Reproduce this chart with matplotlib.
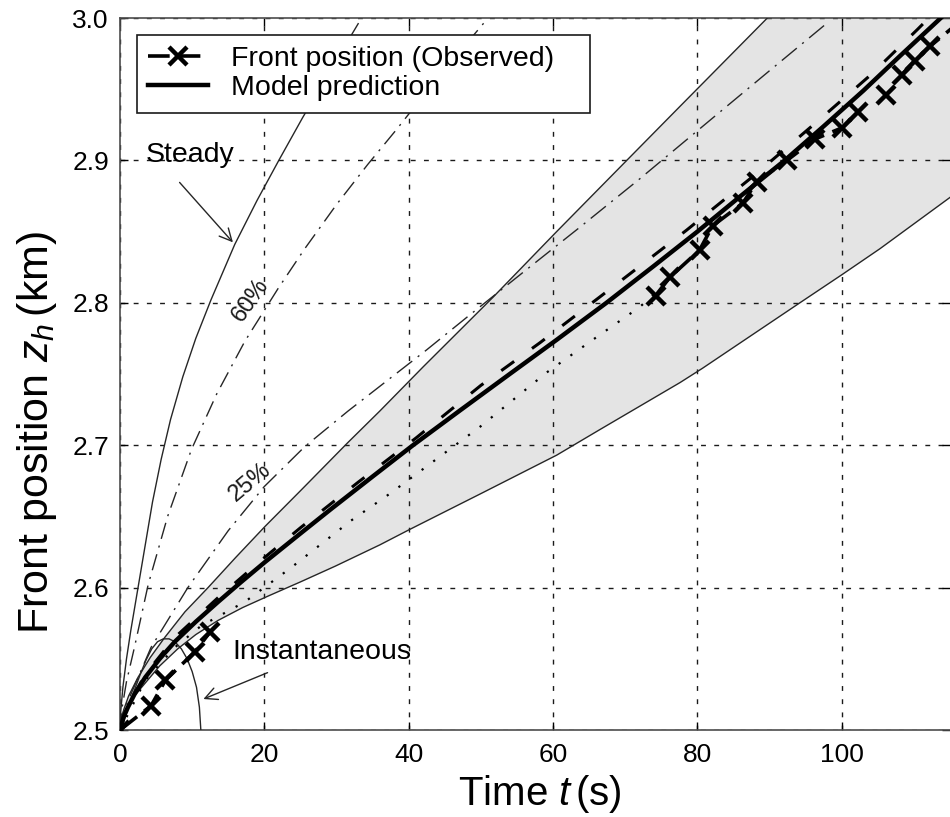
import numpy as np
import matplotlib
matplotlib.use("Agg")
import matplotlib.pyplot as plt

plt.rcParams["font.family"] = ["Liberation Sans", "DejaVu Sans"]
plt.rcParams["mathtext.fontset"] = "custom"
plt.rcParams["mathtext.rm"] = "Liberation Sans"
plt.rcParams["mathtext.it"] = "Liberation Sans:italic"

# curves (time in s, front position in km)
steady_t = [0, 0.1, 0.4, 0.9, 1.5, 2.2, 3.4, 4.5, 5.7, 7.0, 8.7, 10.5, 12.6, 15.9, 19.0, 22.0, 25.3, 29.0, 33.0]
steady_z = [2.5, 2.513, 2.530, 2.550, 2.570, 2.591, 2.627, 2.660, 2.690, 2.718, 2.748, 2.775, 2.802,
            2.841, 2.872, 2.900, 2.930, 2.962, 2.996]

p60_t = [0, 0.3, 0.9, 2.0, 3.9, 6.6, 9.9, 13.4, 17.3, 21.9, 25.6, 30.0, 34.3, 38.2, 44.0, 50.5]
p60_z = [2.5, 2.516, 2.534, 2.558, 2.602, 2.650, 2.697, 2.736, 2.773, 2.810, 2.838, 2.869, 2.897,
         2.921, 2.958, 2.997]

p25_t = [0, 0.4, 1.5, 4.3, 9.4, 15.0, 20.0, 25.6, 31.6, 42.5, 48.1, 56.0, 63.7, 72.0, 81.7, 90.0, 98.1]
p25_z = [2.5, 2.512, 2.525, 2.558, 2.600, 2.640, 2.671, 2.699, 2.724, 2.767, 2.790, 2.822, 2.853,
         2.887, 2.928, 2.963, 2.997]

band_up_t = [0, 0.5, 1.2, 2.5, 4.2, 6.2, 9.0, 12.2, 16.0, 20.1, 25.0, 31.6, 36.0, 42.0, 51.7, 60.5,
             70.6, 77.6, 89.3, 120]
band_up_z = [2.5, 2.514, 2.524, 2.537, 2.551, 2.565, 2.583, 2.600, 2.621, 2.643, 2.668, 2.702, 2.724,
             2.755, 2.804, 2.850, 2.902, 2.938, 2.998, 3.158]

band_lo_t = [0, 0.5, 1.5, 3.5, 5.5, 8.0, 10.5, 13.6, 17.0, 20.5, 25.0, 29.8, 36.0, 40.2, 50.0, 60.5,
             66.5, 77.6, 80.7, 94.2, 100.1, 105.3, 115, 120]
band_lo_z = [2.5, 2.512, 2.521, 2.533, 2.545, 2.557, 2.567, 2.577, 2.586, 2.594, 2.604, 2.615, 2.630,
             2.641, 2.666, 2.693, 2.711, 2.744, 2.754, 2.800, 2.820, 2.838, 2.874, 2.892]

model_t = [0, 0.5, 1.1, 2.0, 3.5, 5.5, 7.6, 10.5, 13.6, 16.8, 20.1, 25.0, 29.2, 35.0, 40.6, 47.0,
           54.0, 60.5, 67.4, 74.0, 80.0, 86.0, 92.1, 97.5, 103.0, 108.0, 113.3, 120]
model_z = [2.5, 2.509, 2.516, 2.525, 2.537, 2.550, 2.562, 2.576, 2.590, 2.604, 2.618, 2.638, 2.655,
           2.678, 2.700, 2.724, 2.750, 2.774, 2.800, 2.826, 2.850, 2.875, 2.900, 2.924, 2.949, 2.973,
           2.998, 3.03]

dash_t = [0, 1.1, 3.5, 7.6, 13.6, 20.0, 25.0, 33.0, 41.0, 50.0, 58.2, 68.0, 78.5, 88.0, 97.0, 104.0,
          110.5, 116]
dash_z = [2.5, 2.517, 2.539, 2.565, 2.593, 2.621, 2.642, 2.674, 2.705, 2.742, 2.772, 2.810, 2.851,
          2.890, 2.929, 2.960, 2.992, 3.02]

dot_t = [0, 3.5, 7.6, 11.2, 17.3, 23.7, 32.0, 37.4, 49.9, 59.1, 65.5, 72.0, 74.0]
dot_z = [2.5, 2.535, 2.558, 2.573, 2.590, 2.614, 2.647, 2.666, 2.713, 2.751, 2.774, 2.797, 2.806]

inst_t = [0, 0.4, 0.8, 1.4, 2.0, 2.8, 3.6, 4.4, 5.2, 6.0, 6.8, 7.6, 8.5, 9.3, 10.0, 10.6, 11.0, 11.2]
inst_z = [2.5, 2.506, 2.512, 2.520, 2.528, 2.539, 2.549, 2.557, 2.562, 2.564, 2.564, 2.562, 2.557,
          2.550, 2.541, 2.530, 2.516, 2.5]

obs_t = [0, 4.3, 6.3, 10.4, 12.5, np.nan, 74.2, 76.2, 80.3, 82.1, 86.3, 88.2, 92.4, 96.3,
         100.1, 102.2, np.nan, 106.2, np.nan, 108.3, 110.1, 112.2, 116.5]
obs_z = [2.5, 2.517, 2.535, 2.555, 2.569, np.nan, 2.805, 2.818, 2.837, 2.854, 2.870, 2.885, 2.900, 2.915,
         2.923, 2.934, np.nan, 2.946, np.nan, 2.960, 2.970, 2.980, 2.998]

xticks = [0, 20, 40, 60, 80, 100]
yticks = [2.5, 2.6, 2.7, 2.8, 2.9, 3.0]

fig = plt.figure(figsize=(9.5, 8.17), dpi=100)
ax = fig.add_axes([120 / 950, 87 / 817, 830 / 950, 712 / 817])

thin = "0.15"
ax.fill(band_up_t + band_lo_t[::-1], band_up_z + band_lo_z[::-1], color="#e4e4e4", lw=0, zorder=1)
ax.plot(band_up_t, band_up_z, color=thin, lw=1.0, zorder=3)
ax.plot(band_lo_t, band_lo_z, color=thin, lw=1.0, zorder=3)
ax.plot(steady_t, steady_z, color=thin, lw=1.0, zorder=3)
ax.plot(p60_t, p60_z, color=thin, lw=1.0, dashes=(12, 5, 1.5, 5), zorder=3)
ax.plot(p25_t, p25_z, color=thin, lw=1.0, dashes=(14, 5, 1.5, 5), zorder=3)
ax.plot(inst_t, inst_z, color=thin, lw=1.0, zorder=3)
ax.plot(dot_t, dot_z, color="k", lw=1.6, dashes=(1, 5.5), zorder=4)
ax.plot(dash_t, dash_z, color="k", lw=2.2, dashes=(5.2, 7.2), zorder=4)
ax.plot(model_t, model_z, color="k", lw=3.2, zorder=5, label="Model prediction")
ax.plot(obs_t, obs_z, color="k", lw=2.6, dashes=(6, 2.5), marker="x", ms=13, mew=3.2,
        zorder=6, label="Front position (Observed)")

ax.set_xlim(0, 115)
ax.set_ylim(2.5, 3.0)
ax.set_xticks(xticks)
ax.set_yticks(yticks)
ax.set_yticklabels([f"{v:.1f}" for v in yticks])
ax.tick_params(direction="in", length=6, width=1, top=True, right=True, labelsize=19)
ax.tick_params(axis="y", pad=8)
ax.tick_params(axis="x", pad=9)
ax.grid(True, color="0.1", lw=1.0, linestyle=(0, (3.5, 6)))
ax.spines["right"].set_visible(False)
for s in ["left", "top", "bottom"]:
    ax.spines[s].set_color("0.3")
    ax.spines[s].set_linewidth(1.2)

ax.set_xlabel(r"Time $t\,$(s)", fontsize=29)
ax.set_ylabel(r"Front position $z_h\,$(km)", fontsize=31)
ax.xaxis.set_label_coords(0.506, -0.060)
ax.yaxis.set_label_coords(-0.074, 0.418)

ax.text(3.6, 2.904, "Steady", fontsize=20.5, ha="left", va="center")
ax.annotate("", xy=(15.9, 2.841), xytext=(8.0, 2.886),
            arrowprops=dict(arrowstyle="->", color=thin, lw=1.0, mutation_scale=22))
ax.text(15.6, 2.555, "Instantaneous", fontsize=20.5, ha="left", va="center")
ax.annotate("", xy=(11.2, 2.521), xytext=(20.8, 2.541),
            arrowprops=dict(arrowstyle="->", color=thin, lw=1.0, mutation_scale=22))
ax.text(18.1, 2.802, "60%", fontsize=17, rotation=55, ha="center", va="center", color="0.1")
ax.text(18.0, 2.674, "25%", fontsize=17, rotation=40, ha="center", va="center", color="0.1")

handles, labels = ax.get_legend_handles_labels()
leg = ax.legend(handles[::-1], labels[::-1], loc="upper left",
                bbox_to_anchor=(17 / 830, 1 - 17 / 712, 453 / 830, 0), mode="expand",
                borderaxespad=0, fontsize=20.5, fancybox=False, framealpha=1, edgecolor="0.1",
                handlelength=2.1, handletextpad=0.8, labelspacing=0.1, borderpad=0.4)
leg.get_frame().set_linewidth(1.2)

fig.savefig("out.png", dpi=100)
